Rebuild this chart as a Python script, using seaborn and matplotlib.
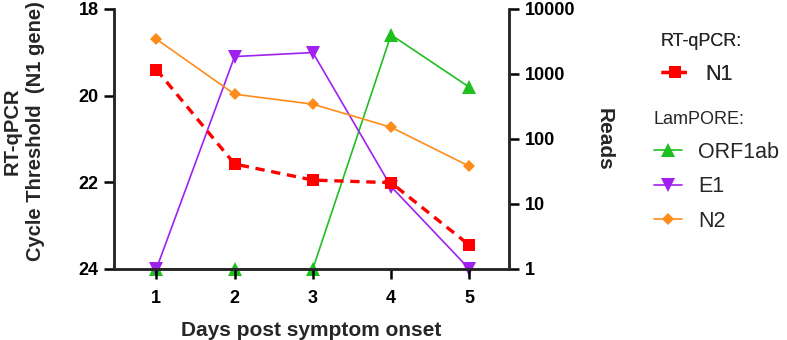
import pandas as pd
import matplotlib
matplotlib.use("Agg")
import matplotlib.pyplot as plt
import seaborn as sns

# values
days = [1, 2, 3, 4, 5]
n1_ct = [19.4, 21.58, 21.95, 22.01, 23.45]
orf1ab_reads = [1, 1, 1, 3980, 624]
e1_reads = [1, 1845, 2128, 18.5, 1]
n2_reads = [3420, 487, 342, 151, 38]

left_ticks = [18, 20, 22, 24]
right_ticks = [1, 10, 100, 1000, 10000]

sns.set_theme(style="ticks")
plt.rcParams["font.family"] = ["Liberation Sans", "DejaVu Sans"]

df = pd.DataFrame({"day": days, "N1": n1_ct, "ORF1ab": orf1ab_reads,
                   "E1": e1_reads, "N2": n2_reads})

fig = plt.figure(figsize=(7.87, 3.4), dpi=100)
ax = fig.add_axes([0.145, 0.209, 0.502, 0.765])
ax2 = ax.twinx()

# reads series on the right (log) axis
sns.lineplot(data=df, x="day", y="ORF1ab", ax=ax2, color="#1fbf1f", lw=1.2,
             marker="^", markersize=10, markeredgewidth=0, label="ORF1ab", clip_on=False)
sns.lineplot(data=df, x="day", y="E1", ax=ax2, color="#a020f0", lw=1.2,
             marker="v", markersize=10, markeredgewidth=0, label="E1", clip_on=False)
sns.lineplot(data=df, x="day", y="N2", ax=ax2, color="#ff8c1a", lw=1.2,
             marker="D", markersize=6.5, markeredgewidth=0, label="N2", clip_on=False)

# Ct on the left axis
sns.lineplot(data=df, x="day", y="N1", ax=ax, color="#ff0000", lw=2.4,
             linestyle=(0, (2.8, 2)), marker="s", markersize=8.5, markeredgewidth=0,
             label="N1", clip_on=False)

ax.set_zorder(ax2.get_zorder() + 1)
ax.patch.set_visible(False)

ax.set_xlim(0.46, 5.51)
ax.set_ylim(24, 18)
ax.set_yticks(left_ticks)
ax.set_xticks(days)

ax2.set_yscale("log")
ax2.set_ylim(1, 10000)
ax2.set_yticks(right_ticks)
ax2.set_yticklabels([str(t) for t in right_ticks])
ax2.minorticks_off()

for a in (ax, ax2):
    a.spines["top"].set_visible(False)
    for s in ("left", "right", "bottom"):
        a.spines[s].set_linewidth(1.8)
    a.tick_params(width=1.8, length=7, labelsize=13, colors="black", pad=4)
    for lbl in a.get_xticklabels() + a.get_yticklabels():
        lbl.set_fontweight("bold")
ax.tick_params(axis="x", pad=8)

ax.set_xlabel("Days post symptom onset", fontsize=15, fontweight="bold", labelpad=10)
ax.set_ylabel("RT-qPCR\nCycle Threshold  (N1 gene)", fontsize=14.5, fontweight="bold",
              labelpad=24, linespacing=1.3)
ax.yaxis.label.set_y(0.53)
ax2.set_ylabel("Reads", fontsize=15, fontweight="bold", rotation=270, labelpad=28)
ax2.set_xlabel("")

h1, l1 = ax.get_legend_handles_labels()
h2, l2 = ax2.get_legend_handles_labels()
ax.get_legend().remove()
ax2.get_legend().remove()

leg1 = fig.legend(h1, l1, title="RT-qPCR:", loc="upper left", bbox_to_anchor=(0.815, 0.96),
                  frameon=False, fontsize=15.5, title_fontsize=13, alignment="left",
                  handlelength=1.3, handletextpad=0.75, labelspacing=0.63)
fig.add_artist(leg1)
fig.legend(h2, l2, title="LamPORE:", loc="upper left", bbox_to_anchor=(0.806, 0.73),
           frameon=False, fontsize=15.5, title_fontsize=13, alignment="left",
           handlelength=1.3, handletextpad=0.75, labelspacing=0.63)

fig.savefig("out.png", dpi=100)
